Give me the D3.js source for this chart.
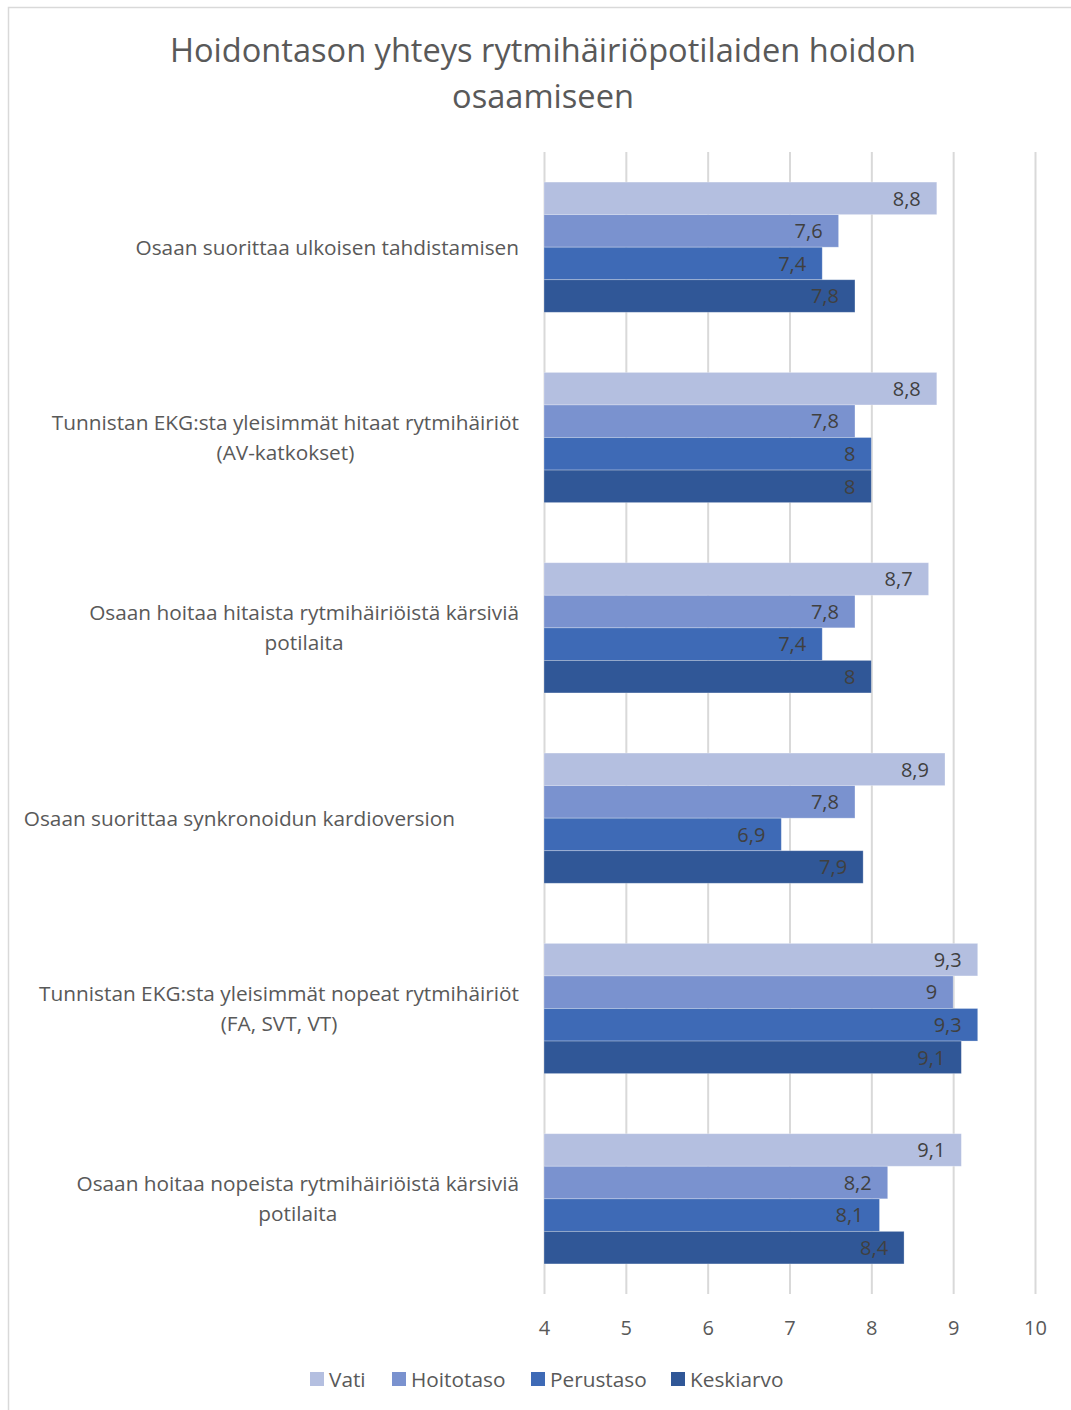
<!DOCTYPE html>
<html>
<head>
<meta charset="utf-8">
<script src="https://cdn.jsdelivr.net/npm/d3@7"></script>
<style>
  body { margin: 0; background: #fff; }
  svg { display: block; }
</style>
</head>
<body>
<svg id="chart" width="1071" height="1410"></svg>
<script>
// Survey items (each may wrap over two lines)
const categories = [
  ["Osaan suorittaa ulkoisen tahdistamisen"],
  ["Tunnistan EKG:sta yleisimmät hitaat rytmihäiriöt", "(AV-katkokset)"],
  ["Osaan hoitaa hitaista rytmihäiriöistä kärsiviä", "potilaita"],
  ["Osaan suorittaa synkronoidun kardioversion"],
  ["Tunnistan EKG:sta yleisimmät nopeat rytmihäiriöt", "(FA, SVT, VT)"],
  ["Osaan hoitaa nopeista rytmihäiriöistä kärsiviä", "potilaita"]
];
const seriesNames = ["Vati", "Hoitotaso", "Perustaso", "Keskiarvo"];
const vati      = [8.8, 8.8, 8.7, 8.9, 9.3, 9.1];
const hoitotaso = [7.6, 7.8, 7.8, 7.8, 9.0, 8.2];
const perustaso = [7.4, 8.0, 7.4, 6.9, 9.3, 8.1];
const keskiarvo = [7.8, 8.0, 8.0, 7.9, 9.1, 8.4];
const xTicks = [4, 5, 6, 7, 8, 9, 10];
const titleLines = ["Hoidontason yhteys rytmihäiriöpotilaiden hoidon", "osaamiseen"];

const seriesValues = [vati, hoitotaso, perustaso, keskiarvo];
const colors = ["#b4bfe0", "#7a92cf", "#3e6ab6", "#305797"];

const font = "'Open Sans', 'DejaVu Sans', sans-serif";
const svg = d3.select("#chart");

// chart frame
svg.append("path")
  .attr("d", "M8.5,1410 L8.5,7.5 L1071,7.5")
  .attr("fill", "none").attr("stroke", "#d9d9d9").attr("stroke-width", 1.5);

const plot = { left: 544, right: 1035, top: 152, bottom: 1294 };

const x = d3.scaleLinear().domain([4, 10]).range([plot.left, plot.right]);
const y0 = d3.scaleBand().domain(d3.range(categories.length))
  .range([plot.top, plot.bottom]).paddingInner(0.3158).paddingOuter(0.158);
const y1 = d3.scaleBand().domain(d3.range(seriesNames.length))
  .range([0, y0.bandwidth()]);

// title
svg.append("text")
  .attr("x", 543).attr("y", 62)
  .attr("text-anchor", "middle")
  .attr("font-family", font).attr("font-size", 32.6).attr("font-weight", 400)
  .attr("fill", "#595959")
  .selectAll("tspan").data(titleLines).join("tspan")
  .attr("x", 543).attr("dy", (d, i) => i === 0 ? 0 : 46)
  .text(d => d);

// gridlines and tick labels
const xAxis = d3.axisBottom(x).tickValues(xTicks).tickSize(-(plot.bottom - plot.top)).tickPadding(27)
  .tickFormat(d3.format("d"));
const gAxis = svg.append("g")
  .attr("transform", `translate(0,${plot.bottom})`)
  .call(xAxis);
gAxis.select(".domain").remove();
gAxis.selectAll(".tick line").attr("stroke", "#d9d9d9").attr("stroke-width", 2);
gAxis.selectAll(".tick text")
  .attr("font-family", font).attr("font-size", 20).attr("fill", "#595959");

// bars
const groups = svg.append("g").selectAll("g")
  .data(categories.map((c, i) => i)).join("g")
  .attr("transform", i => `translate(0,${y0(i)})`);

groups.selectAll("rect")
  .data(i => seriesValues.map((vals, s) => ({ s, v: vals[i] })))
  .join("rect")
  .attr("x", x(4))
  .attr("y", d => y1(d.s))
  .attr("width", d => x(d.v) - x(4))
  .attr("height", y1.bandwidth())
  .attr("fill", d => colors[d.s])
  .attr("stroke", "rgba(255,255,255,0.35)")
  .attr("stroke-width", 0.8);

// value labels inside bar ends
const fmt = v => String(v).replace(".", ",");
groups.selectAll("text.val")
  .data(i => seriesValues.map((vals, s) => ({ s, v: vals[i] })))
  .join("text")
  .attr("class", "val")
  .attr("x", d => x(d.v) - 16)
  .attr("y", d => y1(d.s) + y1.bandwidth() / 2)
  .attr("dy", "0.36em")
  .attr("text-anchor", "end")
  .attr("font-family", font).attr("font-size", 20)
  .attr("fill", "#404040")
  .text(d => fmt(d.v));

// category labels: lines centred on each other, block right-aligned to the axis
const labelRight = 519;
const labelNudge = [0, 0, 0, -64, 0, 0];
const lineH = 30;
const catG = svg.append("g");
categories.forEach((lines, i) => {
  const cy = y0(i) + y0.bandwidth() / 2;
  const t = catG.append("text")
    .attr("font-family", font).attr("font-size", 20.8).attr("fill", "#595959")
    .attr("text-anchor", "middle");
  const spans = t.selectAll("tspan").data(lines).join("tspan")
    .attr("y", (d, k) => cy + (k - (lines.length - 1) / 2) * lineH)
    .attr("dy", "0.36em")
    .text(d => d);
  let w = 0;
  spans.each(function () { w = Math.max(w, this.getComputedTextLength()); });
  const cx = labelRight + labelNudge[i] - w / 2;
  spans.attr("x", cx);
});

// legend
const legend = svg.append("g").attr("transform", "translate(0,1379)");
const legendX = [310, 392, 531, 671];
seriesNames.forEach((name, s) => {
  const g = legend.append("g").attr("transform", `translate(${legendX[s]},0)`);
  g.append("rect").attr("x", 0).attr("y", -7).attr("width", 14).attr("height", 14)
    .attr("fill", colors[s]);
  g.append("text").attr("x", 19).attr("y", 0).attr("dy", "0.36em")
    .attr("font-family", font).attr("font-size", 20.8).attr("fill", "#595959")
    .text(name);
});
</script>
</body>
</html>
